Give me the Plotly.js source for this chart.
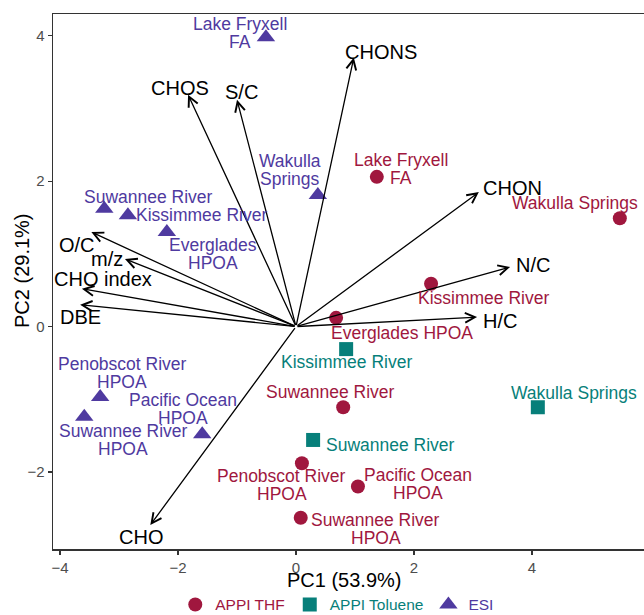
<!DOCTYPE html>
<html>
<head>
<meta charset="utf-8">
<script src="https://cdn.plot.ly/plotly-3.0.1.min.js"></script>
<style>html,body{margin:0;padding:0;background:#fff;}#chart{width:644px;height:615px;}</style>
</head>
<body>
<div id="chart"></div>
<script>
// ---- data ----
const thfNames = ["Lake Fryxell<br>FA", "Wakulla Springs", "Kissimmee River", "Everglades HPOA", "Suwannee River", "Penobscot River<br>HPOA", "Pacific Ocean<br>HPOA", "Suwannee River<br>HPOA"];
const thfPC1 = [1.37, 5.49, 2.29, 0.68, 0.80, 0.10, 1.05, 0.08];
const thfPC2 = [2.06, 1.49, 0.59, 0.12, -1.11, -1.88, -2.20, -2.63];

const tolNames = ["Kissimmee River", "Wakulla Springs", "Suwannee River"];
const tolPC1 = [0.85, 4.10, 0.29];
const tolPC2 = [-0.31, -1.11, -1.56];

const esiNames = ["Lake Fryxell<br>FA", "Wakulla<br>Springs", "Suwannee River", "Kissimmee River", "Everglades<br>HPOA", "Penobscot River<br>HPOA", "Suwannee River<br>HPOA", "Pacific Ocean<br>HPOA"];
const esiPC1 = [-0.51, 0.37, -3.25, -2.85, -2.19, -3.32, -3.59, -1.59];
const esiPC2 = [3.98, 1.81, 1.62, 1.53, 1.30, -0.97, -1.24, -1.48];

const loadNames = ["CHONS", "CHOS", "S/C", "CHON", "N/C", "H/C", "O/C", "m/z", "CHO index", "DBE", "CHO"];
const loadPC1 = [0.98, -1.83, -1.00, 3.10, 3.63, 3.07, -3.47, -2.90, -3.63, -3.66, -2.47];
const loadPC2 = [3.70, 3.19, 3.12, 1.85, 0.82, 0.13, 1.30, 0.93, 0.52, 0.30, -2.73];

const xTicks = [-4, -2, 0, 2, 4];
const yTicks = [-2, 0, 2, 4];

// ---- styles (label offsets in px) ----
const RED = "#a0173e", TEAL = "#077f7a", PURPLE = "#4f3aa0";
const thfOff = [[24, 8], [-45, 15], [52, -14], [66, -15], [-13, 15], [-20, -22], [60, 2], [75, -11]];
const tolOff = [[0, -13], [36, 14], [77, -5]];
const esiOff = [[-26, 4], [-28, 25], [44, 12], [74, 0], [46, -22], [22, 24], [39, -23], [-19, 25]];
const loadOff = [[27, 6], [-8, 7], [4, 8], [34, 4], [23, 2], [23, -4], [-14, -13], [-18, 0], [21, 10], [0, -12], [-9, -12]];
const LINE_GAP = 18;

const FONT = "Liberation Sans, Arial, Helvetica, sans-serif";

const traces = [
  {x: thfPC1, y: thfPC2, type: "scatter", mode: "markers", name: '<span style="color:' + RED + '">APPI THF</span>',
   marker: {symbol: "circle", size: 14, color: RED}, hoverinfo: "skip"},
  {x: tolPC1, y: tolPC2, type: "scatter", mode: "markers", name: '<span style="color:' + TEAL + '">APPI Toluene</span>',
   marker: {symbol: "square", size: 14, color: TEAL}, hoverinfo: "skip"},
  {x: esiPC1, y: esiPC2, type: "scatter", mode: "markers", name: '<span style="color:' + PURPLE + '">ESI</span>',
   marker: {symbol: "triangle-up", size: 16, color: PURPLE}, hoverinfo: "skip"}
];

const annotations = [];
// loading arrows
for (let i = 0; i < loadNames.length; i++) {
  annotations.push({x: loadPC1[i], y: loadPC2[i], ax: 0, ay: 0, axref: "x", ayref: "y", xref: "x", yref: "y",
    text: "", showarrow: true, arrowhead: 5, arrowsize: 1.5, arrowwidth: 1.3, arrowcolor: "#000", standoff: 0});
}
for (let i = 0; i < loadNames.length; i++) {
  annotations.push({x: loadPC1[i], y: loadPC2[i], xref: "x", yref: "y", text: loadNames[i], showarrow: false,
    xshift: loadOff[i][0], yshift: loadOff[i][1], font: {family: FONT, size: 20, color: "#000"}});
}
function addLabels(names, xs, ys, offs, color) {
  for (let i = 0; i < names.length; i++) {
    const lines = names[i].split("<br>");
    const n = lines.length;
    lines.forEach((ln, k) => {
      const dy = ((n - 1) / 2 - k) * LINE_GAP;
      annotations.push({x: xs[i], y: ys[i], xref: "x", yref: "y", text: ln, showarrow: false, align: "center",
        xshift: offs[i][0], yshift: offs[i][1] + dy, font: {family: FONT, size: 17.5, color: color}});
    });
  }
}
addLabels(thfNames, thfPC1, thfPC2, thfOff, RED);
addLabels(tolNames, tolPC1, tolPC2, tolOff, TEAL);
addLabels(esiNames, esiPC1, esiPC2, esiOff, PURPLE);

// axis titles
annotations.push({xref: "paper", yref: "paper", x: 0.494, y: -0.058, text: "PC1 (53.9%)", showarrow: false,
  xanchor: "center", yanchor: "middle", font: {family: FONT, size: 20, color: "#000"}});
annotations.push({xref: "paper", yref: "paper", x: -0.0525, y: 0.5215, text: "PC2 (29.1%)", showarrow: false, textangle: -90,
  xanchor: "center", yanchor: "middle", font: {family: FONT, size: 20, color: "#000"}});

const layout = {
  width: 644, height: 615,
  margin: {l: 53, r: 0, t: 14, b: 66, autoexpand: false},
  paper_bgcolor: "#fff", plot_bgcolor: "#fff",
  font: {family: FONT},
  showlegend: true,
  legend: {orientation: "h", x: 0.481, xanchor: "center", yref: "container", y: 0.0165, yanchor: "middle",
    font: {family: FONT, size: 15.5}, itemwidth: 30, tracegroupgap: 0},
  xaxis: {range: [-4.12, 5.9], tickvals: xTicks, ticktext: xTicks.map(v => v < 0 ? "\u2212" + Math.abs(v) : String(v)),
    showgrid: false, zeroline: false, showline: true, linecolor: "#333", linewidth: 1.5, mirror: true,
    ticks: "outside", ticklen: 4, tickcolor: "#333", tickwidth: 1.2, ticklabelstandoff: 0,
    tickfont: {family: FONT, size: 15, color: "#4d4d4d"}},
  yaxis: {range: [-3.06, 4.30], tickvals: yTicks, ticktext: yTicks.map(v => v < 0 ? "\u2212" + Math.abs(v) : String(v)),
    showgrid: false, zeroline: false, showline: true, linecolor: "#333", linewidth: 1.5,
    ticks: "outside", ticklen: 4, tickcolor: "#333", tickwidth: 1.2,
    tickfont: {family: FONT, size: 15, color: "#4d4d4d"}},
  annotations: annotations
};

Plotly.newPlot("chart", traces, layout, {displayModeBar: false, staticPlot: true});
</script>
</body>
</html>
